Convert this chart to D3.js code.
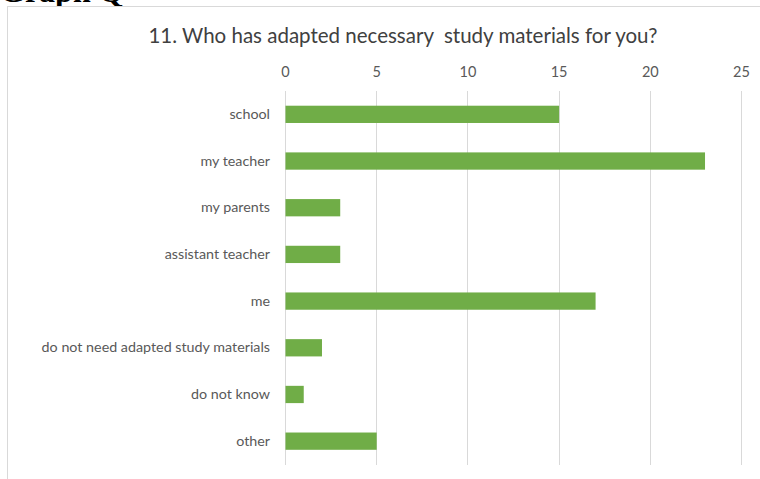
<!DOCTYPE html>
<html><head><meta charset="utf-8">
<script src="https://cdn.jsdelivr.net/npm/d3@7"></script>
<style>html,body{margin:0;padding:0;background:#fff;overflow:hidden}</style>
</head><body>
<script>
const categories = ["school","my teacher","my parents","assistant teacher","me","do not need adapted study materials","do not know","other"];
const values = [15,23,3,3,17,2,1,5];
const tickValues = [0,5,10,15,20,25];
const title = "11. Who has adapted necessary\u00a0 study materials for you?";
const heading = "Graph Q";

const W = 760, H = 479;
const svg = d3.select("body").append("svg").attr("width", W).attr("height", H);

// heading text cut off at the top
svg.append("text").attr("x", 0).attr("y", 2)
  .attr("font-family", "Liberation Serif").attr("font-weight", "bold")
  .attr("font-size", 32).attr("fill", "#000").text(heading);

// chart frame
svg.append("rect").attr("x", 7.5).attr("y", 6.5).attr("width", 800).attr("height", 500)
  .attr("fill", "#fff").attr("stroke", "#d9d9d9").attr("stroke-width", 1);

svg.append("text").attr("x", 403).attr("y", 43).attr("text-anchor", "middle")
  .attr("font-family", "Lato, 'Open Sans', sans-serif").attr("font-size", 20.5)
  .attr("fill", "#404040").text(title);

const x = d3.scaleLinear().domain([0, 25]).range([285, 741]);
const y = d3.scaleBand().domain(categories).range([91, 464.5]).paddingInner(0.63).paddingOuter(0.315);

// grid
svg.append("g").selectAll("line").data(tickValues).join("line")
  .attr("x1", d => Math.round(x(d)) + 0.5).attr("x2", d => Math.round(x(d)) + 0.5)
  .attr("y1", 91).attr("y2", 465).attr("stroke", "#d9d9d9").attr("stroke-width", 1);

// top axis labels
const ax = svg.append("g").attr("transform", "translate(0,77)")
  .call(d3.axisTop(x).tickValues(tickValues).tickSize(0).tickPadding(0));
ax.select(".domain").remove();
ax.selectAll("text").attr("font-family", "Lato, 'Open Sans', sans-serif").attr("font-size", 14.5).attr("fill", "#595959");

// category labels
const ay = svg.append("g").attr("transform", "translate(270,0)")
  .call(d3.axisLeft(y).tickSize(0).tickPadding(0));
ay.select(".domain").remove();
ay.selectAll("text").attr("font-family", "Lato, 'Open Sans', sans-serif").attr("font-size", 14.3).attr("fill", "#595959");

// bars
svg.append("g").selectAll("rect").data(values).join("rect")
  .attr("x", x(0) + 0.5).attr("y", (d, i) => y(categories[i]))
  .attr("width", d => x(d) - x(0)).attr("height", y.bandwidth())
  .attr("fill", "#70ad47");
</script>
</body></html>
